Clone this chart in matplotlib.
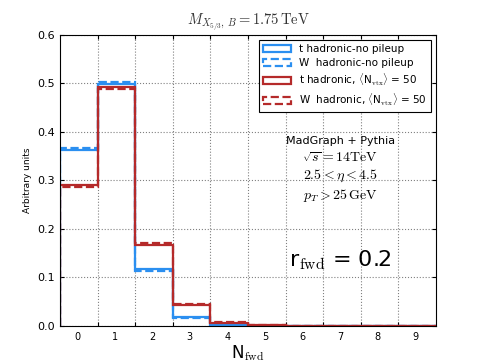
import numpy as np
import matplotlib
matplotlib.use('Agg')
import matplotlib.pyplot as plt

plt.rcParams['mathtext.fontset'] = 'cm'

# bin edges 0..10, bin centres labelled 0..9
nfwd = np.arange(10)
t_nopu = [0.362, 0.499, 0.118, 0.018, 0.003, 0.0005, 0, 0, 0, 0]
w_nopu = [0.366, 0.503, 0.113, 0.017, 0.004, 0.0005, 0, 0, 0, 0]
t_pu50 = [0.291, 0.492, 0.166, 0.043, 0.007, 0.001, 0, 0, 0, 0]
w_pu50 = [0.286, 0.489, 0.171, 0.046, 0.009, 0.002, 0, 0, 0, 0]

labels = ['t hadronic-no pileup', 'W  hadronic-no pileup',
          r't hadronic, $\langle$N$_{\rm vtx}\rangle$ = 50',
          r'W  hadronic, $\langle$N$_{\rm vtx}\rangle$ = 50']

blue = '#2b8ff0'
red = '#b52a2a'

fig = plt.figure(figsize=(4.85, 3.63), dpi=100)
ax = fig.add_axes([0.124, 0.102, 0.775, 0.802])

edges = np.arange(11)
ax.hist(nfwd, bins=edges, weights=t_nopu, histtype='step', color=blue, lw=1.6, label=labels[0])
ax.hist(nfwd, bins=edges, weights=w_nopu, histtype='step', color=blue, lw=1.6, ls='--', label=labels[1])
ax.hist(nfwd, bins=edges, weights=t_pu50, histtype='step', color=red, lw=1.6, label=labels[2])
ax.hist(nfwd, bins=edges, weights=w_pu50, histtype='step', color=red, lw=1.6, ls='--', label=labels[3])

ax.set_xlim(0, 10)
ax.set_ylim(0, 0.6)
ax.set_xticks(np.arange(1, 10))
ax.set_xticklabels([])
ax.set_xticks(nfwd + 0.45, minor=True)
ax.set_xticklabels([str(i) for i in nfwd], minor=True, fontsize=7)
ax.tick_params(axis='x', which='minor', length=0, pad=4)
ax.tick_params(axis='x', which='major', length=3, direction='in', top=True)
ax.set_yticks(np.arange(0, 0.61, 0.1))
ax.tick_params(axis='y', labelsize=8, direction='in', length=3, right=True)
ax.grid(True, which='major', ls=':', color='gray', lw=0.8)

ax.set_xlabel(r'N$_{\rm fwd}$', fontsize=12, labelpad=1)
ax.set_ylabel('Arbitrary units', fontsize=6.5)
ax.set_title(r'$M_{X_{5/3},\,B} = 1.75\,\mathrm{TeV}$', fontsize=10.5, color='#333333', pad=7)

leg = ax.legend(loc='upper right', fontsize=7.5, fancybox=False, framealpha=1,
                edgecolor='black', handlelength=2.6, labelspacing=0.35,
                borderaxespad=0.5)
leg.get_frame().set_linewidth(0.8)

ax.text(7.45, 0.381, 'MadGraph + Pythia', ha='center', va='center', fontsize=8)
ax.text(7.45, 0.346, r'$\sqrt{s} = 14\mathrm{TeV}$', ha='center', va='center', fontsize=10)
ax.text(7.45, 0.309, r'$2.5 < \eta < 4.5$', ha='center', va='center', fontsize=10)
ax.text(7.45, 0.268, r'$p_T > 25\,\mathrm{GeV}$', ha='center', va='center', fontsize=10)
ax.text(7.45, 0.136, r'r$_{\rm fwd}$ = 0.2', ha='center', va='center', fontsize=16)

fig.savefig('out.png', dpi=100)
